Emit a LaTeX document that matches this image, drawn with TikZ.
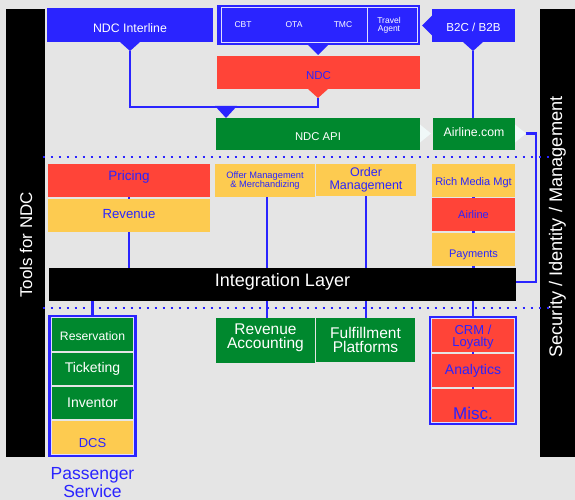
\documentclass[tikz,border=0pt]{standalone}
\usepackage{fontspec}
\setmainfont{Liberation Sans}
\usetikzlibrary{calc}
\definecolor{cblue}{RGB}{42,36,255}
\definecolor{cred}{RGB}{255,68,56}
\definecolor{cyel}{RGB}{253,203,80}
\definecolor{cgreen}{RGB}{0,136,46}
\definecolor{cbg}{RGB}{229,229,229}
\definecolor{cpale}{RGB}{240,248,248}
\newcommand\fsz[2]{\fontsize{#1}{#2}\selectfont}
\pgfdeclarelayer{bglayer}
\pgfdeclarelayer{connlayer}
\pgfsetlayers{bglayer,connlayer,main}
\tikzset{
  box/.style={rectangle, inner sep=0pt, outer sep=0pt, align=center},
  bluebox/.style={box, fill=cblue, text=white},
  redbox/.style={box, fill=cred, text=cblue},
  yelbox/.style={box, fill=cyel, text=cblue},
  grnbox/.style={box, fill=cgreen, text=white},
  blkbox/.style={box, fill=black, text=white},
  conn/.style={draw=cblue, line width=2.5pt},
  dotline/.style={draw=cblue, line width=2.4pt, dash pattern=on 2.4pt off 5.6pt},
  grpframe/.style={box, draw=cblue, line width=3pt},
  grpinner/.style={box, draw=white!85!cblue, line width=0.8pt},
  txt/.style={inner sep=0pt, align=center},
}
\begin{document}
\begin{tikzpicture}[x=1pt, y=-1pt]
\begin{pgfonlayer}{bglayer}
\fill[cbg] (0,0) rectangle (575,500);
\end{pgfonlayer}
\useasboundingbox (0,0) rectangle (575,500);

% side bars
\node[blkbox, minimum width=39pt, minimum height=448pt] (lbar) at (25.5,233) {};
\node[txt, text=white, rotate=90, font=\fsz{17}{17}] (ltext) at (26,245) {Tools for NDC};
\node[blkbox, minimum width=36pt, minimum height=448pt] (rbar) at (558,233) {};
\node[txt, text=white, rotate=90, font=\fsz{18.2}{18}] (rtext) at (557.5,227) {Security / Identity / Management};

% top row
\node[bluebox, minimum width=166pt, minimum height=34pt,
  label={[txt, text=white, yshift=-3pt, font=\fsz{12.3}{12}]center:NDC Interline}] (interline) at (130,25) {};
\node[bluebox, minimum width=203pt, minimum height=40.3pt] (topgrp) at (318.5,24.85) {};
\draw[white!85!cblue, line width=0.8pt] (221,7.5) rectangle (417,42.3);
\draw[white!85!cblue, line width=0.8pt] (367,7.5) -- (367,42.3);
\node[txt, text=white, font=\fsz{8.5}{8}] (cbt) at (243,25) {CBT};
\node[txt, text=white, font=\fsz{8.5}{8}] (ota) at (294,25) {OTA};
\node[txt, text=white, font=\fsz{8.5}{8}] (tmc) at (343,25) {TMC};
\node[txt, text=white, font=\fsz{8.5}{8}] (tagent) at (389,25) {Travel\\Agent};
\node[redbox, minimum width=203pt, minimum height=33pt,
  label={[txt, text=cblue, yshift=-3.5pt, font=\fsz{11.5}{12}]center:NDC}] (ndc) at (318.5,72.5) {};
\node[bluebox, minimum width=83pt, minimum height=33pt,
  label={[txt, text=white, yshift=-2pt, font=\fsz{11.6}{12}]center:B2C / B2B}] (b2c) at (473.5,25.5) {};

\node[grnbox, minimum width=204pt, minimum height=32pt,
  label={[txt, text=white, yshift=-3pt, font=\fsz{11.3}{12}]center:NDC API}] (ndcapi) at (318,134) {};
\node[grnbox, minimum width=82pt, minimum height=32pt,
  label={[txt, text=white, yshift=2pt, font=\fsz{12.3}{12}]center:Airline.com}] (airlinecom) at (474,134) {};

% middle row
\node[redbox, minimum width=162pt, minimum height=33pt,
  label={[txt, text=cblue, yshift=3pt, font=\fsz{13.5}{13}]center:Pricing}] (pricing) at (129,180.5) {};
\node[yelbox, minimum width=162pt, minimum height=33pt,
  label={[txt, text=cblue, yshift=1.5pt, font=\fsz{13.2}{13}]center:Revenue}] (revenue) at (129,215.5) {};
\node[yelbox, minimum width=100pt, minimum height=33pt, font=\fsz{9.3}{9}] (offer) at (265,180.5) {Offer Management\\\& Merchandizing};
\node[yelbox, minimum width=100pt, minimum height=32pt, font=\fsz{12.5}{13}] (order) at (366,180) {Order\\Management};
\node[yelbox, minimum width=83pt, minimum height=33pt,
  label={[txt, text=cblue, yshift=-2.5pt, font=\fsz{11}{11}]center:Rich Media Mgt}] (rich) at (473.5,180.5) {};
\node[redbox, minimum width=83pt, minimum height=33pt, font=\fsz{11}{11}] (airline) at (473.5,214.5) {Airline};
\node[yelbox, minimum width=83pt, minimum height=33pt,
  label={[txt, text=cblue, yshift=-5.5pt, font=\fsz{11}{11}]center:Payments}] (payments) at (473.5,249.5) {};
\node[blkbox, minimum width=467pt, minimum height=33pt,
  label={[txt, text=white, yshift=3pt, font=\fsz{18}{18}]center:Integration Layer}] (integration) at (282.5,284.5) {};

% passenger service group
\node[grpframe, minimum width=86pt, minimum height=139pt] (psgroup) at (92.5,386) {};
\node[grpinner, minimum width=81.8pt, minimum height=136.8pt] (psinner) at (92.5,386) {};
\node[grnbox, minimum width=81pt, minimum height=33pt,
  label={[txt, text=white, yshift=-2pt, font=\fsz{12.2}{12}]center:Reservation}] (reservation) at (92.5,334.5) {};
\node[grnbox, minimum width=81pt, minimum height=32pt, font=\fsz{14}{14}] (ticketing) at (92.5,369) {Ticketing};
\node[grnbox, minimum width=81pt, minimum height=32pt, font=\fsz{14}{14}] (inventor) at (92.5,403) {Inventor};
\node[yelbox, minimum width=81pt, minimum height=33pt,
  label={[txt, text=cblue, yshift=-5.5pt, font=\fsz{13}{13}]center:DCS}] (dcs) at (92.5,437.5) {};
\node[txt, text=cblue, font=\fsz{17.5}{16}] (pstext) at (92.5,482.5) {Passenger\\Service};

% bottom middle
\node[grnbox, minimum width=99pt, minimum height=45pt,
  label={[txt, text=white, yshift=3pt, font=\fsz{15.5}{14.3}]center:Revenue\\Accounting}] (revacc) at (265.5,340.5) {};
\node[grnbox, minimum width=99pt, minimum height=44pt, font=\fsz{15.5}{14}] (fulfil) at (365.5,340) {Fulfillment\\Platforms};

% right group
\node[grpframe, minimum width=85pt, minimum height=106pt] (rgroup) at (473,370.5) {};
\node[grpinner, minimum width=82.8pt, minimum height=103.8pt] (rinner) at (473,370.5) {};
\node[redbox, minimum width=82pt, minimum height=33pt,
  label={[txt, text=cblue, yshift=-1.5pt, font=\fsz{13}{12}]center:CRM /\\Loyalty}] (crm) at (473,335.5) {};
\node[redbox, minimum width=82pt, minimum height=33pt, font=\fsz{14}{14}] (analytics) at (473,370.5) {Analytics};
\node[redbox, minimum width=82pt, minimum height=33pt,
  label={[txt, text=cblue, yshift=-7.5pt, font=\fsz{17}{17}]center:Misc.}] (misc) at (473,405.5) {};

% pointer triangles
\fill[cblue] ($(interline.south)+(-10,0)$) -- ($(interline.south)+(10,0)$) -- ($(interline.south)+(0,9)$) -- cycle;
\coordinate (itip) at ($(interline.south)+(0,9)$);
\fill[cblue] ($(topgrp.south)+(-10.5,0)$) -- ($(topgrp.south)+(9.5,0)$) -- ($(topgrp.south)+(-0.5,10)$) -- cycle;
\fill[cred] ($(ndc.south)+(-10.5,0)$) -- ($(ndc.south)+(9.5,0)$) -- ($(ndc.south)+(-0.5,9)$) -- cycle;
\coordinate (ntip) at ($(ndc.south)+(-0.5,9)$);
\fill[cblue] ($(b2c.south)+(-10.5,0)$) -- ($(b2c.south)+(9.5,0)$) -- ($(b2c.south)+(-0.5,9)$) -- cycle;
\coordinate (btip) at ($(b2c.south)+(-0.5,9)$);
\fill[cblue] ($(b2c.west)+(0,-10)$) -- ($(b2c.west)+(0,10)$) -- ($(b2c.west)+(-10,0)$) -- cycle;
\fill[cblue] ($(ndcapi.north west)+(-1,-12)$) -- ($(ndcapi.north west)+(21,-12)$) -- ($(ndcapi.north west)+(10,0)$) -- cycle;
\fill[cpale] ($(ndcapi.east)+(0,-9.5)$) -- ($(ndcapi.east)+(0,8.5)$) -- ($(ndcapi.east)+(11,-0.5)$) -- cycle;
\fill[cpale] ($(airlinecom.east)+(0,-9.5)$) -- ($(airlinecom.east)+(0,8.5)$) -- ($(airlinecom.east)+(11,-0.5)$) -- cycle;
\coordinate (atip) at ($(airlinecom.east)+(11,-0.5)$);

% connectors
\begin{pgfonlayer}{connlayer}
\draw[conn] (itip) |- ($(ntip)+(0,9)$) -- (ntip);
\draw[conn] (btip) -- (btip |- airlinecom.north);
\draw[conn] (atip) -- ++(10,0) |- ($(integration.east)+(0,-2.5)$);
\draw[conn] (pricing) -- (revenue) -- (revenue.south |- integration.north);
\draw[conn] ([xshift=2pt]offer.south) -- ([xshift=2pt]offer.south |- integration.north);
\draw[conn] (order.south) -- (order.south |- integration.north);
\draw[conn] (rich) -- (airline) -- (payments) -- (payments.south |- integration.north);
\draw[conn] (psgroup.north |- integration.south) -- (psgroup.north);
\draw[conn] ([xshift=1.5pt]revacc.north |- integration.south) -- ([xshift=1.5pt]revacc.north);
\draw[conn] ([xshift=0.5pt]fulfil.north |- integration.south) -- ([xshift=0.5pt]fulfil.north);
\draw[conn] (rgroup.north |- integration.south) -- (rgroup.north);
\draw[conn] (crm) -- (analytics) -- (misc);
\end{pgfonlayer}

% dotted separators
\draw[dotline] (42.7,157) -- (553,157);
\draw[dotline] (42.7,308) -- (553,308);
\end{tikzpicture}
\end{document}
